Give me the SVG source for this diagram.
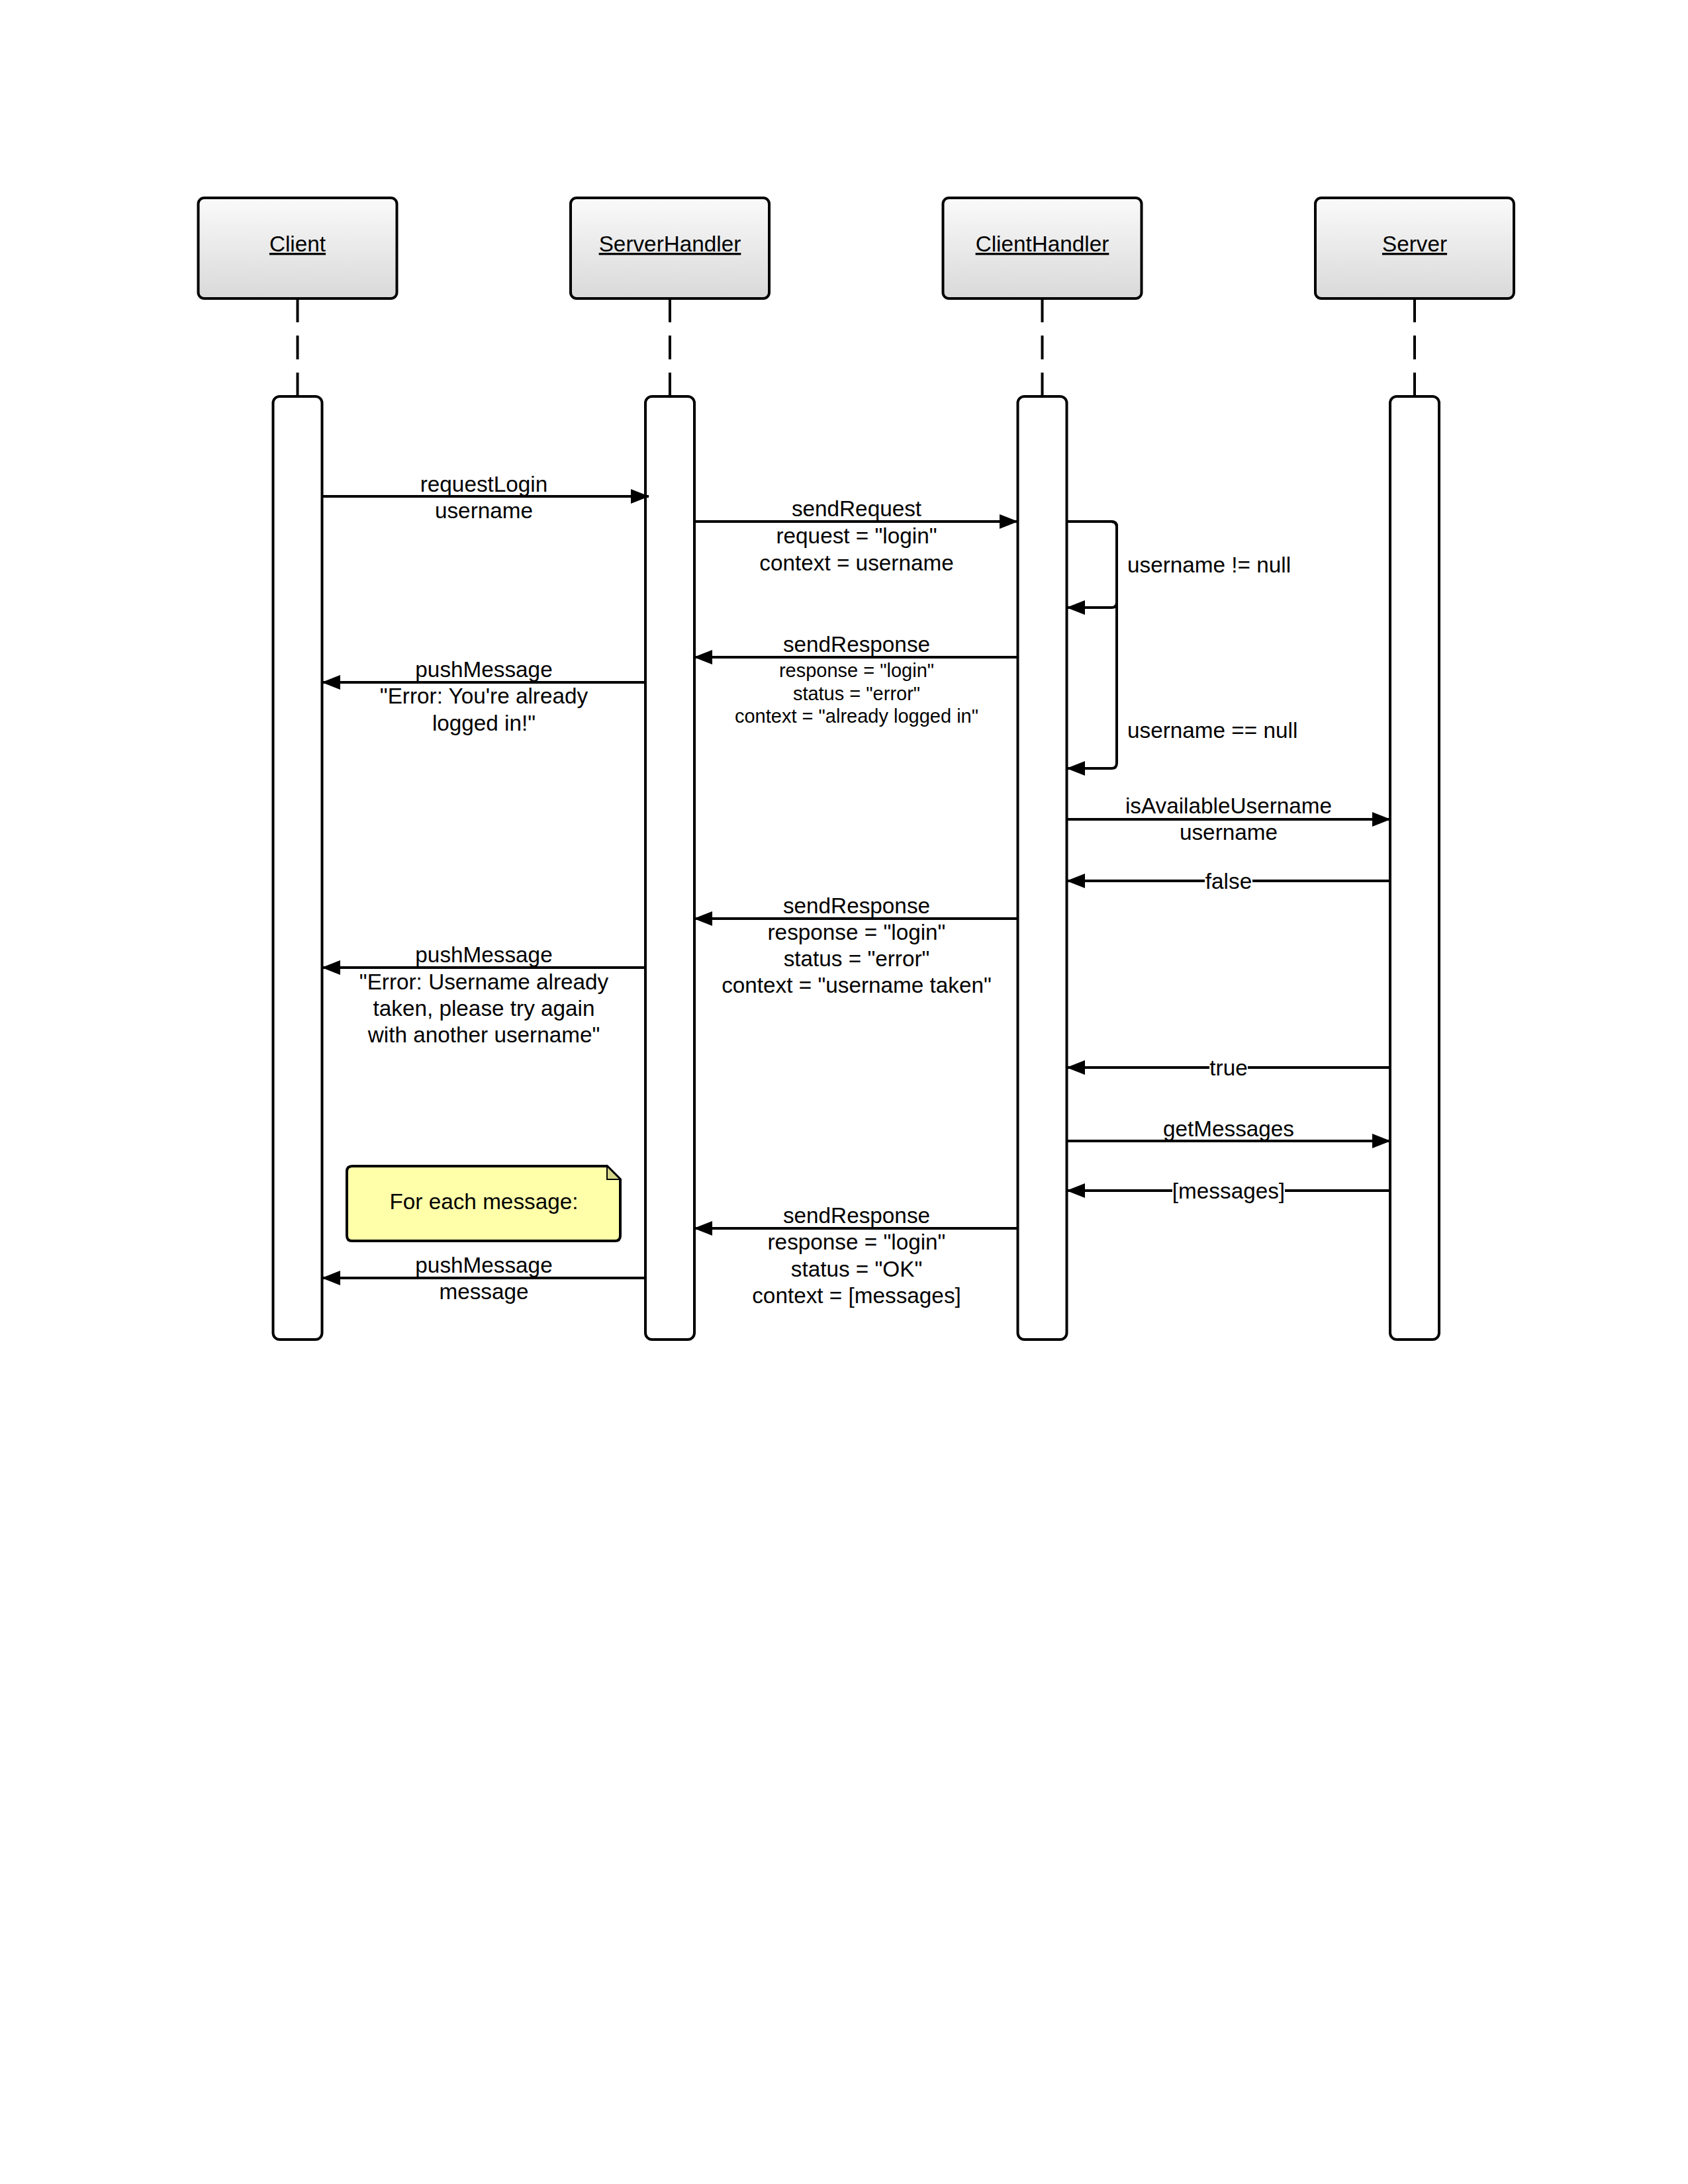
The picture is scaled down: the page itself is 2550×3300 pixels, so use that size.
<svg xmlns="http://www.w3.org/2000/svg" width="2550" height="3300" viewBox="0 0 2550 3300">
<defs>
<linearGradient id="hdr" x1="0" y1="0" x2="0" y2="1">
<stop offset="0" stop-color="#fafafa"/>
<stop offset="1" stop-color="#d9d9d9"/>
</linearGradient>
<marker id="ah" markerUnits="userSpaceOnUse" markerWidth="28" markerHeight="22" refX="27" refY="11" orient="auto">
<path d="M0,0 L28,11 L0,22 z" fill="#000"/>
</marker>
</defs>
<style>
.hdr{fill:url(#hdr);stroke:#000;stroke-width:4}
.act{fill:#fff;stroke:#000;stroke-width:4}
.life{stroke:#000;stroke-width:4;stroke-dasharray:36 20;fill:none}
.msg{stroke:#000;stroke-width:4;fill:none;marker-end:url(#ah)}
text{font-family:"Liberation Sans",Arial,sans-serif;fill:#000}
.t{font-size:33.3px;text-anchor:middle}
.s{font-size:29px;text-anchor:middle}
.l{font-size:33.3px;text-anchor:start}
.ttl{font-size:33.3px;text-anchor:middle;text-decoration:underline}
.bg{fill:#fff}
</style>
<rect width="2550" height="3300" fill="#fff"/>

<g id="lifelines">
<line class="life" x1="449.5" y1="451" x2="449.5" y2="598"/>
<line class="life" x1="1012" y1="451" x2="1012" y2="598"/>
<line class="life" x1="1574.5" y1="451" x2="1574.5" y2="598"/>
<line class="life" x1="2137" y1="451" x2="2137" y2="598"/>
</g>

<g id="node-client">
<rect class="hdr" x="299.5" y="299" width="300" height="152" rx="9"/>
<text class="ttl" x="449.5" y="380">Client</text>
<rect class="act" x="412.5" y="599" width="74" height="1425" rx="10"/>
</g>
<g id="node-serverhandler">
<rect class="hdr" x="862" y="299" width="300" height="152" rx="9"/>
<text class="ttl" x="1012" y="380">ServerHandler</text>
<rect class="act" x="975" y="599" width="74" height="1425" rx="10"/>
</g>
<g id="node-clienthandler">
<rect class="hdr" x="1424.5" y="299" width="300" height="152" rx="9"/>
<text class="ttl" x="1574.5" y="380">ClientHandler</text>
<rect class="act" x="1537.5" y="599" width="74" height="1425" rx="10"/>
</g>
<g id="node-server">
<rect class="hdr" x="1987" y="299" width="300" height="152" rx="9"/>
<text class="ttl" x="2137" y="380">Server</text>
<rect class="act" x="2100" y="599" width="74" height="1425" rx="10"/>
</g>

<g id="note-foreach">
<path d="M532,1762 H917 L937,1782 V1867 Q937,1875 929,1875 H532 Q524,1875 524,1867 V1770 Q524,1762 532,1762 z" fill="#ffffaa" stroke="#000" stroke-width="4"/>
<path d="M917,1762 L917,1782 L937,1782 z" fill="#d6d68a" stroke="#000" stroke-width="2"/>
<text class="t" x="731" y="1827">For each message:</text>
</g>

<g id="connectors">
<path class="msg" d="M487,750 H980"/>
<path class="msg" d="M1049,788 H1537"/>
<path class="msg" d="M1612,788 H1679 Q1687,788 1687,796 V910 Q1687,918 1679,918 H1612"/>
<path class="msg" d="M1612,788 H1679 Q1687,788 1687,796 V1153 Q1687,1161 1679,1161 H1612"/>
<path class="msg" d="M1537,993 H1049"/>
<path class="msg" d="M975,1031 H487"/>
<path class="msg" d="M1612,1238 H2100"/>
<path class="msg" d="M2100,1331 H1612"/>
<path class="msg" d="M1537,1388 H1049"/>
<path class="msg" d="M975,1462 H487"/>
<path class="msg" d="M2100,1613 H1612"/>
<path class="msg" d="M1612,1724 H2100"/>
<path class="msg" d="M2100,1799 H1612"/>
<path class="msg" d="M1537,1856 H1049"/>
<path class="msg" d="M975,1931 H487"/>

<rect class="bg" x="1820" y="1314" width="72" height="36"/>
<rect class="bg" x="1827" y="1596" width="58" height="36"/>
<rect class="bg" x="1771" y="1782" width="170" height="36"/>

<text class="t" x="731" y="743">requestLogin</text>
<text class="t" x="731" y="783">username</text>

<text class="t" x="1294" y="780">sendRequest</text>
<text class="t" x="1294" y="821">request = "login"</text>
<text class="t" x="1294" y="862">context = username</text>

<text class="l" x="1703" y="865">username != null</text>
<text class="l" x="1703" y="1115">username == null</text>

<text class="t" x="1294" y="985">sendResponse</text>
<text class="s" x="1294" y="1023">response = "login"</text>
<text class="s" x="1294" y="1058">status = "error"</text>
<text class="s" x="1294" y="1092">context = "already logged in"</text>

<text class="t" x="731" y="1023">pushMessage</text>
<text class="t" x="731" y="1063">"Error: You're already</text>
<text class="t" x="731" y="1104">logged in!"</text>

<text class="t" x="1856" y="1229">isAvailableUsername</text>
<text class="t" x="1856" y="1269">username</text>

<text class="t" x="1856" y="1342.5">false</text>

<text class="t" x="1294" y="1380">sendResponse</text>
<text class="t" x="1294" y="1420">response = "login"</text>
<text class="t" x="1294" y="1460">status = "error"</text>
<text class="t" x="1294" y="1500">context = "username taken"</text>

<text class="t" x="731" y="1454">pushMessage</text>
<text class="t" x="731" y="1495">"Error: Username already</text>
<text class="t" x="731" y="1535">taken, please try again</text>
<text class="t" x="731" y="1575">with another username"</text>

<text class="t" x="1856" y="1624.5">true</text>

<text class="t" x="1856" y="1717">getMessages</text>

<text class="t" x="1856" y="1810.5">[messages]</text>

<text class="t" x="1294" y="1848">sendResponse</text>
<text class="t" x="1294" y="1888">response = "login"</text>
<text class="t" x="1294" y="1929">status = "OK"</text>
<text class="t" x="1294" y="1969">context = [messages]</text>

<text class="t" x="731" y="1923">pushMessage</text>
<text class="t" x="731" y="1963">message</text>
</g>
</svg>
